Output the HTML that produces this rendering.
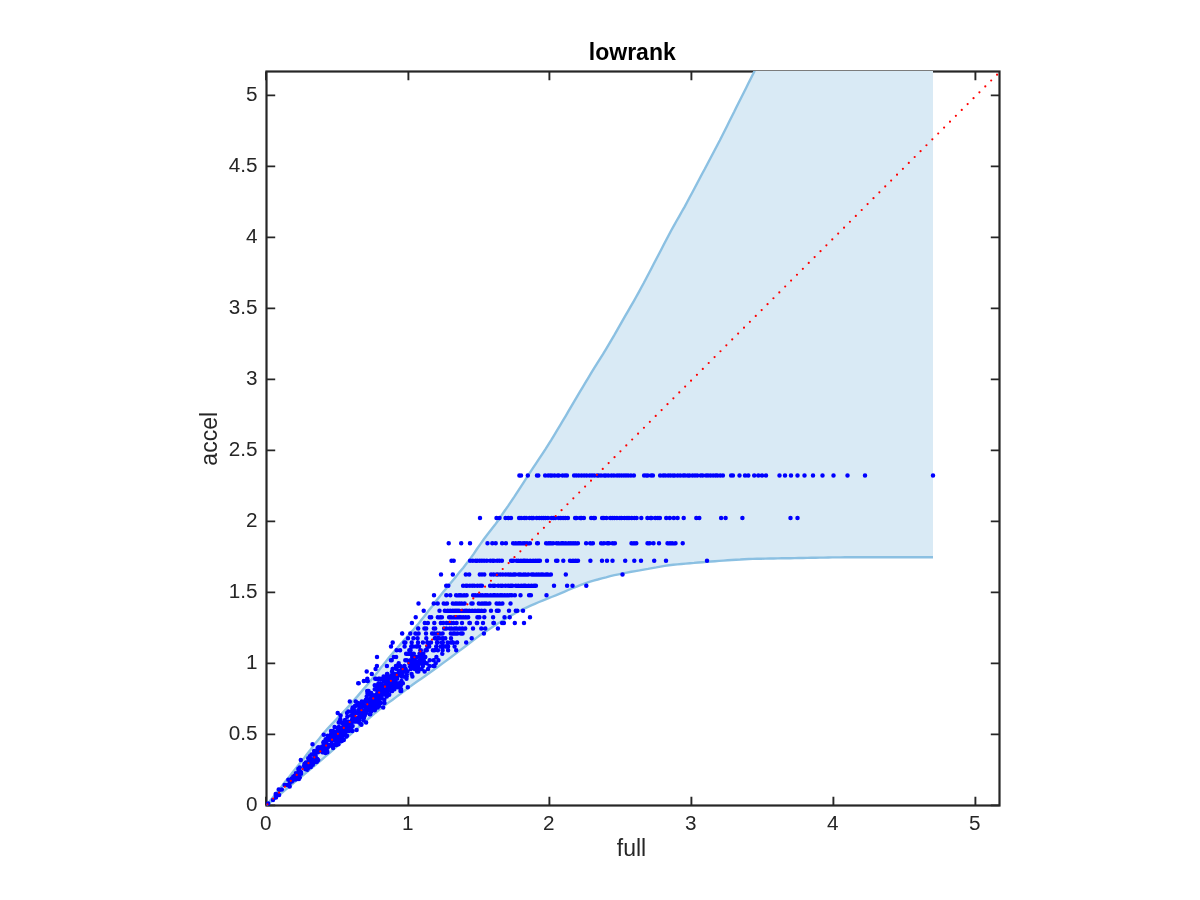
<!DOCTYPE html>
<html lang="en">
<head>
<meta charset="utf-8">
<title>lowrank</title>
<style>
html,body{margin:0;padding:0;background:#fff;}
body{width:1200px;height:900px;overflow:hidden;font-family:"Liberation Sans",Arial,Helvetica,sans-serif;}
svg{display:block;}
text{font-family:"Liberation Sans",Arial,Helvetica,sans-serif;fill:#262626;}
.xt text{font-size:20.7px;text-anchor:middle;}
.yt text{font-size:20.7px;text-anchor:end;}
.lab{font-size:23px;text-anchor:middle;}
.ttl{font-size:23px;font-weight:bold;text-anchor:middle;fill:#000;}
</style>
</head>
<body>
<svg width="1200" height="900" viewBox="0 0 1200 900">
<defs><clipPath id="ax"><rect x="266.5" y="70.9" width="733.0" height="734.6"/></clipPath></defs>
<rect width="1200" height="900" fill="#fff"/>
<g fill="none" stroke="#262626" stroke-width="2.2">
<rect x="266.5" y="71.5" width="733.0" height="734.0"/>
<path d="M266.0 805.5V796.8M266.0 71.5V80.2M408.4 805.5V796.8M408.4 71.5V80.2M549.4 805.5V796.8M549.4 71.5V80.2M691.4 805.5V796.8M691.4 71.5V80.2M833.4 805.5V796.8M833.4 71.5V80.2M975.4 805.5V796.8M975.4 71.5V80.2M266.5 805.4H275.2M999.5 805.4H990.8M266.5 734.4H275.2M999.5 734.4H990.8M266.5 663.4H275.2M999.5 663.4H990.8M266.5 592.4H275.2M999.5 592.4H990.8M266.5 521.4H275.2M999.5 521.4H990.8M266.5 450.4H275.2M999.5 450.4H990.8M266.5 379.4H275.2M999.5 379.4H990.8M266.5 308.4H275.2M999.5 308.4H990.8M266.5 237.4H275.2M999.5 237.4H990.8M266.5 166.4H275.2M999.5 166.4H990.8M266.5 95.4H275.2M999.5 95.4H990.8" stroke-width="1.9"/>
</g>
<g clip-path="url(#ax)">
<polygon points="266.5,805.4 270.3,800.6 274.0,795.9 277.8,791.1 281.6,786.4 285.3,781.6 289.1,776.9 292.9,772.1 296.6,767.4 300.4,762.6 304.2,757.9 307.9,753.1 311.5,748.4 315.2,743.6 319.0,738.9 322.9,734.1 327.0,729.4 331.4,724.6 335.9,719.9 340.4,715.1 344.9,710.4 349.3,705.6 353.4,700.9 357.6,696.1 361.6,691.4 365.7,686.6 369.6,681.9 373.5,677.1 377.3,672.4 381.0,667.6 384.8,662.9 388.6,658.1 392.6,653.4 396.7,648.6 400.8,643.9 405.0,639.1 409.2,634.4 413.5,629.6 417.5,624.9 421.3,620.1 425.0,615.4 428.7,610.6 432.4,605.9 436.0,601.1 439.7,596.4 443.6,591.6 447.5,586.9 451.5,582.1 455.3,577.4 459.2,572.6 463.1,567.9 466.9,563.1 470.5,558.4 473.9,553.6 477.1,548.8 480.4,544.1 483.8,539.3 487.4,534.6 491.1,529.8 494.8,525.1 498.3,520.3 501.4,515.6 504.7,510.8 508.0,506.1 511.2,501.3 514.4,496.6 517.5,491.8 520.6,487.1 523.7,482.3 526.7,477.6 529.8,472.8 532.9,468.1 536.1,463.3 539.2,458.6 542.4,453.8 545.5,449.1 548.5,444.3 551.5,439.6 554.4,434.8 557.2,430.1 560.1,425.3 562.9,420.6 565.8,415.8 568.5,411.1 571.3,406.3 574.1,401.6 576.9,396.8 579.7,392.1 582.6,387.3 585.4,382.6 588.3,377.8 591.1,373.1 594.0,368.3 597.0,363.6 600.0,358.8 603.0,354.1 605.9,349.3 608.7,344.6 611.5,339.8 614.3,335.1 617.0,330.3 619.7,325.6 622.4,320.8 625.1,316.1 627.9,311.3 630.6,306.6 633.4,301.8 636.1,297.0 638.7,292.3 641.3,287.5 643.9,282.8 646.4,278.0 648.9,273.3 651.4,268.5 653.8,263.8 656.3,259.0 658.8,254.3 661.3,249.5 663.7,244.8 666.2,240.0 668.7,235.3 671.2,230.5 673.8,225.8 676.5,221.0 679.2,216.3 681.9,211.5 684.6,206.8 687.2,202.0 689.7,197.3 692.3,192.5 694.8,187.8 697.3,183.0 699.8,178.3 702.3,173.5 704.9,168.8 707.4,164.0 709.9,159.3 712.4,154.5 714.9,149.8 717.4,145.0 719.9,140.3 722.3,135.5 724.7,130.8 727.1,126.0 729.4,121.3 731.8,116.5 734.2,111.8 736.5,107.0 738.9,102.3 741.3,97.5 743.7,92.8 746.1,88.0 748.4,83.3 750.8,78.5 753.2,73.8 755.5,69.0 757.9,64.3 760.3,59.5 762.6,54.8 765.0,50.0 933.0,40.0 933.0,557.2 933.0,557.2 928.8,557.2 924.6,557.2 920.4,557.2 916.2,557.2 912.0,557.2 907.8,557.2 903.7,557.2 899.5,557.2 895.3,557.2 891.1,557.2 886.9,557.2 882.7,557.2 878.5,557.2 874.3,557.3 870.1,557.3 865.9,557.3 861.7,557.3 857.5,557.3 853.4,557.3 849.2,557.3 845.0,557.3 840.8,557.4 836.6,557.4 832.4,557.4 828.2,557.5 824.0,557.6 819.8,557.6 815.6,557.7 811.4,557.8 807.2,557.9 803.1,558.0 798.9,558.0 794.7,558.1 790.5,558.2 786.3,558.3 782.1,558.3 777.9,558.4 773.7,558.5 769.5,558.5 765.3,558.6 761.1,558.7 756.9,558.8 752.8,558.9 748.6,559.0 744.4,559.2 740.2,559.5 736.0,559.7 731.8,560.0 727.6,560.3 723.4,560.6 719.2,560.9 715.0,561.2 710.8,561.5 706.6,561.9 702.4,562.2 698.3,562.5 694.1,562.9 689.9,563.2 685.7,563.6 681.5,564.0 677.3,564.4 673.1,564.8 668.9,565.3 664.7,565.9 660.5,566.6 656.3,567.4 652.1,568.1 648.0,568.9 643.8,569.6 639.6,570.4 635.4,571.1 631.2,571.8 627.0,572.6 622.8,573.4 618.6,574.3 614.4,575.2 610.2,576.2 606.0,577.3 601.8,578.3 597.7,579.5 593.5,580.6 589.3,581.9 585.1,583.4 580.9,584.9 576.7,586.6 572.5,588.2 568.3,590.0 564.1,591.8 559.9,593.6 555.7,595.4 551.5,597.0 547.4,598.7 543.2,600.3 539.0,602.0 534.8,603.8 530.6,605.7 526.4,607.6 522.2,609.6 518.0,611.7 513.8,614.0 509.6,616.5 505.4,619.0 501.2,621.5 497.1,624.1 492.9,626.8 488.7,629.4 484.5,632.2 480.3,635.1 476.1,638.1 471.9,641.3 467.7,644.5 463.5,647.7 459.3,650.9 455.1,654.1 450.9,657.2 446.7,660.4 442.6,663.4 438.4,666.5 434.2,669.5 430.0,672.5 425.8,675.5 421.6,678.4 417.4,681.3 413.2,684.3 409.0,687.4 404.8,690.5 400.6,693.7 396.4,696.9 392.3,699.9 388.1,702.9 383.9,706.0 379.7,709.3 375.5,712.7 371.3,716.3 367.1,719.9 362.9,723.6 358.7,727.2 354.5,730.9 350.3,734.5 346.1,738.2 342.0,741.9 337.8,745.6 333.6,749.3 329.4,753.0 325.2,756.6 321.0,760.3 316.8,763.9 312.6,767.4 308.4,770.9 304.2,774.3 300.0,777.7 295.8,781.1 291.7,784.6 287.5,788.1 283.3,791.5 279.1,795.0 274.9,798.5 270.7,801.9 266.5,805.4" fill="#d9eaf5"/>
<polyline points="266.5,805.4 270.3,800.6 274.0,795.9 277.8,791.1 281.6,786.4 285.3,781.6 289.1,776.9 292.9,772.1 296.6,767.4 300.4,762.6 304.2,757.9 307.9,753.1 311.5,748.4 315.2,743.6 319.0,738.9 322.9,734.1 327.0,729.4 331.4,724.6 335.9,719.9 340.4,715.1 344.9,710.4 349.3,705.6 353.4,700.9 357.6,696.1 361.6,691.4 365.7,686.6 369.6,681.9 373.5,677.1 377.3,672.4 381.0,667.6 384.8,662.9 388.6,658.1 392.6,653.4 396.7,648.6 400.8,643.9 405.0,639.1 409.2,634.4 413.5,629.6 417.5,624.9 421.3,620.1 425.0,615.4 428.7,610.6 432.4,605.9 436.0,601.1 439.7,596.4 443.6,591.6 447.5,586.9 451.5,582.1 455.3,577.4 459.2,572.6 463.1,567.9 466.9,563.1 470.5,558.4 473.9,553.6 477.1,548.8 480.4,544.1 483.8,539.3 487.4,534.6 491.1,529.8 494.8,525.1 498.3,520.3 501.4,515.6 504.7,510.8 508.0,506.1 511.2,501.3 514.4,496.6 517.5,491.8 520.6,487.1 523.7,482.3 526.7,477.6 529.8,472.8 532.9,468.1 536.1,463.3 539.2,458.6 542.4,453.8 545.5,449.1 548.5,444.3 551.5,439.6 554.4,434.8 557.2,430.1 560.1,425.3 562.9,420.6 565.8,415.8 568.5,411.1 571.3,406.3 574.1,401.6 576.9,396.8 579.7,392.1 582.6,387.3 585.4,382.6 588.3,377.8 591.1,373.1 594.0,368.3 597.0,363.6 600.0,358.8 603.0,354.1 605.9,349.3 608.7,344.6 611.5,339.8 614.3,335.1 617.0,330.3 619.7,325.6 622.4,320.8 625.1,316.1 627.9,311.3 630.6,306.6 633.4,301.8 636.1,297.0 638.7,292.3 641.3,287.5 643.9,282.8 646.4,278.0 648.9,273.3 651.4,268.5 653.8,263.8 656.3,259.0 658.8,254.3 661.3,249.5 663.7,244.8 666.2,240.0 668.7,235.3 671.2,230.5 673.8,225.8 676.5,221.0 679.2,216.3 681.9,211.5 684.6,206.8 687.2,202.0 689.7,197.3 692.3,192.5 694.8,187.8 697.3,183.0 699.8,178.3 702.3,173.5 704.9,168.8 707.4,164.0 709.9,159.3 712.4,154.5 714.9,149.8 717.4,145.0 719.9,140.3 722.3,135.5 724.7,130.8 727.1,126.0 729.4,121.3 731.8,116.5 734.2,111.8 736.5,107.0 738.9,102.3 741.3,97.5 743.7,92.8 746.1,88.0 748.4,83.3 750.8,78.5 753.2,73.8 755.5,69.0 757.9,64.3 760.3,59.5 762.6,54.8 765.0,50.0" fill="none" stroke="#8bc0e2" stroke-width="2.4"/>
<polyline points="266.5,805.4 270.7,801.9 274.9,798.5 279.1,795.0 283.3,791.5 287.5,788.1 291.7,784.6 295.8,781.1 300.0,777.7 304.2,774.3 308.4,770.9 312.6,767.4 316.8,763.9 321.0,760.3 325.2,756.6 329.4,753.0 333.6,749.3 337.8,745.6 342.0,741.9 346.1,738.2 350.3,734.5 354.5,730.9 358.7,727.2 362.9,723.6 367.1,719.9 371.3,716.3 375.5,712.7 379.7,709.3 383.9,706.0 388.1,702.9 392.3,699.9 396.4,696.9 400.6,693.7 404.8,690.5 409.0,687.4 413.2,684.3 417.4,681.3 421.6,678.4 425.8,675.5 430.0,672.5 434.2,669.5 438.4,666.5 442.6,663.4 446.7,660.4 450.9,657.2 455.1,654.1 459.3,650.9 463.5,647.7 467.7,644.5 471.9,641.3 476.1,638.1 480.3,635.1 484.5,632.2 488.7,629.4 492.9,626.8 497.1,624.1 501.2,621.5 505.4,619.0 509.6,616.5 513.8,614.0 518.0,611.7 522.2,609.6 526.4,607.6 530.6,605.7 534.8,603.8 539.0,602.0 543.2,600.3 547.4,598.7 551.5,597.0 555.7,595.4 559.9,593.6 564.1,591.8 568.3,590.0 572.5,588.2 576.7,586.6 580.9,584.9 585.1,583.4 589.3,581.9 593.5,580.6 597.7,579.5 601.8,578.3 606.0,577.3 610.2,576.2 614.4,575.2 618.6,574.3 622.8,573.4 627.0,572.6 631.2,571.8 635.4,571.1 639.6,570.4 643.8,569.6 648.0,568.9 652.1,568.1 656.3,567.4 660.5,566.6 664.7,565.9 668.9,565.3 673.1,564.8 677.3,564.4 681.5,564.0 685.7,563.6 689.9,563.2 694.1,562.9 698.3,562.5 702.4,562.2 706.6,561.9 710.8,561.5 715.0,561.2 719.2,560.9 723.4,560.6 727.6,560.3 731.8,560.0 736.0,559.7 740.2,559.5 744.4,559.2 748.6,559.0 752.8,558.9 756.9,558.8 761.1,558.7 765.3,558.6 769.5,558.5 773.7,558.5 777.9,558.4 782.1,558.3 786.3,558.3 790.5,558.2 794.7,558.1 798.9,558.0 803.1,558.0 807.2,557.9 811.4,557.8 815.6,557.7 819.8,557.6 824.0,557.6 828.2,557.5 832.4,557.4 836.6,557.4 840.8,557.4 845.0,557.3 849.2,557.3 853.4,557.3 857.5,557.3 861.7,557.3 865.9,557.3 870.1,557.3 874.3,557.3 878.5,557.2 882.7,557.2 886.9,557.2 891.1,557.2 895.3,557.2 899.5,557.2 903.7,557.2 907.8,557.2 912.0,557.2 916.2,557.2 920.4,557.2 924.6,557.2 928.8,557.2 933.0,557.2" fill="none" stroke="#8bc0e2" stroke-width="2.4"/>
</g>
<path d="M519.4 475.5h0M521.0 475.5h0M527.8 475.5h0M537.0 475.5h0M538.3 475.5h0M545.1 475.5h0M548.2 475.5h0M550.4 475.5h0M551.9 475.5h0M554.5 475.5h0M557.8 475.5h0M558.8 475.5h0M562.6 475.5h0M565.0 475.5h0M566.9 475.5h0M574.1 475.5h0M576.2 475.5h0M578.7 475.5h0M581.5 475.5h0M584.1 475.5h0M586.6 475.5h0M589.8 475.5h0M592.0 475.5h0M594.2 475.5h0M597.3 475.5h0M598.6 475.5h0M601.0 475.5h0M604.2 475.5h0M605.8 475.5h0M608.2 475.5h0M611.5 475.5h0M613.9 475.5h0M617.1 475.5h0M619.2 475.5h0M621.5 475.5h0M623.9 475.5h0M626.0 475.5h0M628.1 475.5h0M630.9 475.5h0M633.9 475.5h0M644.1 475.5h0M646.1 475.5h0M647.7 475.5h0M651.2 475.5h0M652.9 475.5h0M660.1 475.5h0M663.2 475.5h0M665.1 475.5h0M668.2 475.5h0M670.4 475.5h0M673.0 475.5h0M674.5 475.5h0M677.7 475.5h0M680.2 475.5h0M683.3 475.5h0M685.0 475.5h0M687.9 475.5h0M689.5 475.5h0M692.6 475.5h0M695.0 475.5h0M697.2 475.5h0M700.8 475.5h0M702.6 475.5h0M706.1 475.5h0M708.0 475.5h0M710.5 475.5h0M713.1 475.5h0M715.6 475.5h0M717.3 475.5h0M720.3 475.5h0M722.9 475.5h0M731.1 475.5h0M732.9 475.5h0M739.5 475.5h0M745.0 475.5h0M748.3 475.5h0M754.2 475.5h0M758.3 475.5h0M762.0 475.5h0M766.0 475.5h0M779.5 475.5h0M785.0 475.5h0M791.0 475.5h0M797.5 475.5h0M804.5 475.5h0M813.0 475.5h0M822.5 475.5h0M833.5 475.5h0M847.5 475.5h0M865.0 475.5h0M933.0 475.5h0M480.0 518.0h0M496.5 518.0h0M499.5 518.0h0M505.5 518.0h0M508.3 518.0h0M511.0 518.0h0M519.1 518.0h0M521.1 518.0h0M524.3 518.0h0M526.1 518.0h0M529.5 518.0h0M531.6 518.0h0M533.2 518.0h0M536.7 518.0h0M539.3 518.0h0M541.7 518.0h0M543.6 518.0h0M545.4 518.0h0M547.9 518.0h0M551.5 518.0h0M553.3 518.0h0M555.2 518.0h0M558.8 518.0h0M560.8 518.0h0M563.1 518.0h0M565.3 518.0h0M567.9 518.0h0M575.1 518.0h0M576.6 518.0h0M580.1 518.0h0M581.6 518.0h0M583.9 518.0h0M591.1 518.0h0M593.4 518.0h0M594.9 518.0h0M602.1 518.0h0M603.8 518.0h0M606.4 518.0h0M610.2 518.0h0M612.2 518.0h0M614.3 518.0h0M616.9 518.0h0M619.9 518.0h0M621.6 518.0h0M624.4 518.0h0M627.0 518.0h0M629.0 518.0h0M631.7 518.0h0M634.6 518.0h0M636.6 518.0h0M641.3 518.0h0M647.4 518.0h0M650.6 518.0h0M651.6 518.0h0M655.3 518.0h0M657.9 518.0h0M659.9 518.0h0M666.2 518.0h0M669.8 518.0h0M673.8 518.0h0M677.6 518.0h0M683.7 518.0h0M696.3 518.0h0M699.3 518.0h0M721.1 518.0h0M725.6 518.0h0M742.4 518.0h0M790.5 518.0h0M797.5 518.0h0M448.7 543.2h0M461.2 543.2h0M470.0 543.2h0M487.5 543.2h0M492.3 543.2h0M495.7 543.2h0M502.1 543.2h0M505.9 543.2h0M513.1 543.2h0M515.7 543.2h0M518.4 543.2h0M520.3 543.2h0M523.1 543.2h0M524.7 543.2h0M527.0 543.2h0M529.9 543.2h0M537.1 543.2h0M537.9 543.2h0M546.1 543.2h0M548.7 543.2h0M550.7 543.2h0M553.1 543.2h0M556.6 543.2h0M558.2 543.2h0M561.5 543.2h0M563.2 543.2h0M565.7 543.2h0M568.7 543.2h0M570.9 543.2h0M573.1 543.2h0M575.3 543.2h0M577.9 543.2h0M586.1 543.2h0M590.2 543.2h0M592.9 543.2h0M601.1 543.2h0M603.9 543.2h0M607.3 543.2h0M609.0 543.2h0M612.6 543.2h0M614.9 543.2h0M631.5 543.2h0M634.0 543.2h0M636.3 543.2h0M647.5 543.2h0M649.7 543.2h0M653.5 543.2h0M659.0 543.2h0M667.5 543.2h0M670.0 543.2h0M672.2 543.2h0M675.5 543.2h0M682.7 543.2h0M451.5 560.8h0M453.7 560.8h0M470.1 560.8h0M472.8 560.8h0M475.7 560.8h0M477.2 560.8h0M479.7 560.8h0M481.9 560.8h0M484.1 560.8h0M486.8 560.8h0M490.3 560.8h0M492.7 560.8h0M493.9 560.8h0M497.2 560.8h0M499.4 560.8h0M501.9 560.8h0M511.1 560.8h0M513.2 560.8h0M516.6 560.8h0M518.2 560.8h0M520.9 560.8h0M523.3 560.8h0M525.0 560.8h0M527.2 560.8h0M530.2 560.8h0M533.1 560.8h0M535.6 560.8h0M537.9 560.8h0M539.9 560.8h0M547.0 560.8h0M556.1 560.8h0M557.4 560.8h0M563.3 560.8h0M570.0 560.8h0M573.0 560.8h0M575.6 560.8h0M578.0 560.8h0M590.4 560.8h0M602.0 560.8h0M607.0 560.8h0M612.5 560.8h0M625.2 560.8h0M634.3 560.8h0M641.0 560.8h0M654.2 560.8h0M666.0 560.8h0M707.0 560.8h0M441.0 574.6h0M452.8 574.6h0M465.8 574.6h0M469.2 574.6h0M479.8 574.6h0M482.0 574.6h0M484.3 574.6h0M491.1 574.6h0M493.6 574.6h0M496.7 574.6h0M497.8 574.6h0M500.3 574.6h0M502.8 574.6h0M505.7 574.6h0M508.1 574.6h0M510.5 574.6h0M513.6 574.6h0M515.3 574.6h0M518.7 574.6h0M520.5 574.6h0M523.8 574.6h0M525.2 574.6h0M528.2 574.6h0M531.7 574.6h0M533.5 574.6h0M536.4 574.6h0M538.7 574.6h0M541.1 574.6h0M542.9 574.6h0M546.0 574.6h0M547.7 574.6h0M550.9 574.6h0M565.8 574.6h0M622.5 574.6h0M446.2 585.8h0M448.3 585.8h0M463.1 585.8h0M466.0 585.8h0M467.1 585.8h0M469.9 585.8h0M472.2 585.8h0M474.2 585.8h0M477.4 585.8h0M480.0 585.8h0M481.9 585.8h0M490.1 585.8h0M493.1 585.8h0M494.6 585.8h0M498.2 585.8h0M500.9 585.8h0M502.3 585.8h0M505.5 585.8h0M508.1 585.8h0M510.6 585.8h0M512.4 585.8h0M515.8 585.8h0M518.3 585.8h0M521.2 585.8h0M523.7 585.8h0M525.4 585.8h0M528.6 585.8h0M531.4 585.8h0M534.0 585.8h0M535.9 585.8h0M554.0 585.8h0M567.1 585.8h0M572.5 585.8h0M586.3 585.8h0M434.0 595.3h0M446.3 595.3h0M450.3 595.3h0M456.1 595.3h0M459.0 595.3h0M460.9 595.3h0M464.1 595.3h0M466.6 595.3h0M473.1 595.3h0M475.2 595.3h0M477.9 595.3h0M480.7 595.3h0M482.3 595.3h0M485.2 595.3h0M487.3 595.3h0M490.6 595.3h0M493.3 595.3h0M495.0 595.3h0M497.5 595.3h0M500.2 595.3h0M502.1 595.3h0M504.7 595.3h0M507.3 595.3h0M509.9 595.3h0M511.8 595.3h0M514.9 595.3h0M520.5 595.3h0M529.1 595.3h0M530.9 595.3h0M546.5 595.3h0M418.5 603.6h0M433.7 603.6h0M437.7 603.6h0M443.7 603.6h0M447.0 603.6h0M452.8 603.6h0M455.6 603.6h0M456.9 603.6h0M459.3 603.6h0M461.6 603.6h0M464.6 603.6h0M471.4 603.6h0M472.6 603.6h0M478.8 603.6h0M482.0 603.6h0M484.3 603.6h0M486.2 603.6h0M489.4 603.6h0M496.6 603.6h0M499.3 603.6h0M502.4 603.6h0M510.5 603.6h0M423.7 610.8h0M439.5 610.8h0M444.8 610.8h0M447.7 610.8h0M450.2 610.8h0M452.8 610.8h0M455.0 610.8h0M457.0 610.8h0M459.0 610.8h0M462.2 610.8h0M465.1 610.8h0M466.7 610.8h0M469.3 610.8h0M472.2 610.8h0M475.0 610.8h0M477.8 610.8h0M479.0 610.8h0M481.6 610.8h0M484.6 610.8h0M491.0 610.8h0M496.8 610.8h0M498.6 610.8h0M509.0 610.8h0M515.8 610.8h0M517.2 610.8h0M523.0 610.8h0M415.7 617.3h0M429.8 617.3h0M431.2 617.3h0M437.8 617.3h0M440.3 617.3h0M441.9 617.3h0M449.1 617.3h0M451.0 617.3h0M454.3 617.3h0M456.7 617.3h0M459.0 617.3h0M460.9 617.3h0M463.2 617.3h0M465.7 617.3h0M468.2 617.3h0M477.4 617.3h0M479.4 617.3h0M484.3 617.3h0M493.1 617.3h0M504.5 617.3h0M509.7 617.3h0M530.0 617.3h0M411.9 623.1h0M424.8 623.1h0M427.9 623.1h0M434.3 623.1h0M440.8 623.1h0M443.2 623.1h0M446.6 623.1h0M449.4 623.1h0M451.2 623.1h0M453.4 623.1h0M456.6 623.1h0M462.0 623.1h0M469.4 623.1h0M469.9 623.1h0M476.8 623.1h0M477.2 623.1h0M483.0 623.1h0M493.4 623.1h0M493.9 623.1h0M502.1 623.1h0M503.9 623.1h0M514.8 623.1h0M524.0 623.1h0M418.1 628.5h0M418.2 628.5h0M424.4 628.5h0M426.2 628.5h0M433.8 628.5h0M435.2 628.5h0M444.1 628.5h0M446.3 628.5h0M449.8 628.5h0M451.3 628.5h0M454.6 628.5h0M456.5 628.5h0M459.6 628.5h0M462.3 628.5h0M465.2 628.5h0M473.0 628.5h0M481.3 628.5h0M485.3 628.5h0M497.9 628.5h0M402.1 633.5h0M402.2 633.5h0M410.3 633.5h0M415.4 633.5h0M418.6 633.5h0M426.0 633.5h0M432.1 633.5h0M434.3 633.5h0M437.2 633.5h0M439.5 633.5h0M442.6 633.5h0M450.8 633.5h0M453.2 633.5h0M454.9 633.5h0M457.4 633.5h0M460.8 633.5h0M462.6 633.5h0M483.9 633.5h0M434.8 638.3h0M443.7 638.3h0M437.7 638.3h0M436.9 638.3h0M471.7 638.3h0M439.4 638.3h0M445.3 638.3h0M413.4 638.3h0M451.0 638.3h0M408.0 638.3h0M426.3 638.3h0M442.3 638.3h0M417.6 638.3h0M435.3 638.3h0M453.0 642.5h0M452.6 642.5h0M442.8 642.5h0M427.3 642.5h0M411.7 642.5h0M447.6 642.5h0M437.7 642.5h0M404.3 642.5h0M437.0 642.5h0M427.5 642.5h0M437.6 642.5h0M418.0 642.5h0M441.9 642.5h0M457.1 642.5h0M457.0 642.5h0M466.2 642.5h0M431.0 642.5h0M422.9 642.5h0M405.4 642.5h0M450.8 642.5h0M452.3 642.5h0M392.7 642.5h0M416.2 646.5h0M412.9 646.5h0M429.0 646.5h0M404.6 646.5h0M419.1 646.5h0M444.0 646.5h0M454.6 646.5h0M436.2 646.5h0M417.4 646.5h0M427.3 646.5h0M429.1 646.5h0M428.2 646.5h0M445.7 646.5h0M429.2 646.5h0M440.6 646.5h0M391.0 646.5h0M448.1 646.5h0M411.8 646.5h0M411.2 646.5h0M416.5 646.5h0M432.9 650.2h0M400.1 650.2h0M396.6 650.2h0M420.8 650.2h0M425.5 650.2h0M426.8 650.2h0M409.3 650.2h0M409.8 650.2h0M437.9 650.2h0M410.6 650.2h0M420.3 650.2h0M434.4 650.2h0M442.6 650.2h0M456.2 650.2h0M448.1 650.2h0M421.8 653.7h0M420.9 653.7h0M421.3 653.7h0M442.3 653.7h0M420.2 653.7h0M421.3 653.7h0M410.8 653.7h0M406.1 653.7h0M420.7 653.7h0M419.5 653.7h0M407.6 653.7h0M413.8 653.7h0M422.2 653.7h0M423.3 653.7h0M420.2 657.1h0M416.4 657.1h0M413.2 657.1h0M414.8 657.1h0M420.2 657.1h0M422.3 657.1h0M425.2 657.1h0M412.2 657.1h0M393.8 657.1h0M422.5 657.1h0M424.6 657.1h0M414.9 657.1h0M425.3 657.1h0M396.1 657.1h0M436.4 657.1h0M422.3 657.1h0M377.0 657.1h0M433.7 660.2h0M419.3 660.2h0M438.4 660.2h0M411.9 660.2h0M405.3 660.2h0M421.1 660.2h0M429.7 660.2h0M414.5 660.2h0M423.8 660.2h0M421.1 660.2h0M420.6 660.2h0M391.7 660.2h0M414.6 660.2h0M390.9 660.2h0M406.7 660.2h0M410.5 660.2h0M420.9 660.2h0M415.1 660.2h0M419.6 663.3h0M435.7 663.3h0M416.4 663.3h0M423.0 663.3h0M411.5 663.3h0M409.9 663.3h0M414.8 663.3h0M411.7 663.3h0M398.7 663.3h0M409.3 663.3h0M426.6 663.3h0M400.2 666.1h0M422.9 666.1h0M415.6 666.1h0M422.8 666.1h0M433.4 666.1h0M411.7 666.1h0M418.0 666.1h0M396.6 666.1h0M404.3 666.1h0M411.8 666.1h0M434.5 666.1h0M409.8 666.1h0M429.5 666.1h0M395.9 666.1h0M415.0 666.1h0M386.9 666.1h0M376.9 666.1h0M411.8 666.1h0M404.5 666.1h0M392.8 668.9h0M405.7 668.9h0M401.5 668.9h0M415.1 668.9h0M392.6 668.9h0M418.4 668.9h0M415.2 668.9h0M403.0 668.9h0M421.7 668.9h0M414.7 668.9h0M428.1 668.9h0M414.9 668.9h0M396.7 668.9h0M375.6 668.9h0M401.6 668.9h0M410.8 668.9h0M398.9 671.5h0M418.4 671.5h0M417.1 671.5h0M403.5 671.5h0M392.0 671.5h0M366.7 671.5h0M407.5 671.5h0M406.9 671.5h0M399.3 671.5h0M424.6 671.5h0M402.8 671.5h0M371.8 674.0h0M399.8 674.0h0M397.0 674.0h0M395.2 674.0h0M387.4 674.0h0M399.6 674.0h0M406.9 674.0h0M387.0 674.0h0M411.6 674.0h0M402.0 674.0h0M392.3 674.0h0M394.2 674.0h0M392.4 674.0h0M406.7 676.4h0M390.1 676.4h0M387.1 676.4h0M393.6 676.4h0M390.3 676.4h0M401.6 676.4h0M395.6 676.4h0M389.0 676.4h0M383.6 676.4h0M390.3 676.4h0M397.3 676.4h0M406.1 676.4h0M402.1 676.4h0M405.3 676.4h0M412.4 676.4h0M378.8 678.8h0M392.5 678.8h0M380.0 678.8h0M396.6 678.8h0M376.0 678.8h0M394.4 678.8h0M367.3 678.8h0M387.2 678.8h0M406.5 678.8h0M383.9 678.8h0M385.9 678.8h0M382.3 678.8h0M395.1 678.8h0M384.5 678.8h0M379.0 678.8h0M397.1 678.8h0M375.2 678.8h0M363.8 681.0h0M386.6 681.0h0M384.2 681.0h0M395.5 681.0h0M387.7 681.0h0M367.4 681.0h0M401.5 681.0h0M392.1 681.0h0M367.8 681.0h0M389.9 681.0h0M394.2 681.0h0M399.0 683.2h0M392.4 683.2h0M380.8 683.2h0M395.7 683.2h0M386.0 683.2h0M358.2 683.2h0M378.5 683.2h0M400.1 683.2h0M388.1 683.2h0M358.7 683.2h0M402.9 683.2h0M396.2 685.3h0M389.6 685.3h0M374.7 685.3h0M388.0 685.3h0M390.4 685.3h0M391.4 685.3h0M388.9 685.3h0M383.1 685.3h0M397.9 685.3h0M390.0 685.3h0M399.3 685.3h0M381.1 685.3h0M391.7 685.3h0M400.9 685.3h0M400.9 685.3h0M377.0 685.3h0M387.5 685.3h0M398.5 687.3h0M390.5 687.3h0M379.8 687.3h0M407.8 687.3h0M387.0 687.3h0M380.6 687.3h0M397.7 687.3h0M395.3 687.3h0M376.1 689.2h0M381.1 689.2h0M401.1 689.2h0M374.7 689.2h0M392.1 689.2h0M383.6 689.2h0M390.7 689.2h0M394.4 689.2h0M390.5 689.2h0M393.8 689.2h0M375.5 689.2h0M367.2 691.1h0M387.1 691.1h0M380.9 691.1h0M382.4 691.1h0M387.8 691.1h0M401.2 691.1h0M383.1 691.1h0M392.2 691.1h0M386.7 691.1h0M385.7 691.1h0M378.2 691.1h0M385.8 691.1h0M391.5 691.1h0M378.6 691.1h0M382.9 691.1h0M379.5 691.1h0M380.1 691.1h0M385.9 691.1h0M400.5 691.1h0M368.5 691.1h0M371.2 693.0h0M370.4 693.0h0M367.4 693.0h0M377.3 693.0h0M385.7 693.0h0M382.2 693.0h0M371.2 693.0h0M378.0 693.0h0M379.9 693.0h0M377.5 693.0h0M376.0 694.8h0M379.5 694.8h0M388.9 694.8h0M370.4 694.8h0M387.7 694.8h0M372.1 694.8h0M386.4 694.8h0M368.2 694.8h0M372.0 694.8h0M385.3 694.8h0M382.9 694.8h0M389.2 694.8h0M386.4 694.8h0M366.7 696.5h0M374.6 696.5h0M379.0 696.5h0M386.8 696.5h0M376.6 696.5h0M381.7 698.2h0M373.0 698.2h0M373.0 698.2h0M381.4 698.2h0M371.0 698.2h0M374.4 698.2h0M373.3 698.2h0M378.0 698.2h0M378.0 698.2h0M373.7 698.2h0M381.5 698.2h0M372.8 699.8h0M378.7 699.8h0M366.6 699.8h0M375.9 699.8h0M368.8 699.8h0M384.3 699.8h0M376.2 699.8h0M367.9 699.8h0M373.6 699.8h0M372.6 699.8h0M365.9 699.8h0M375.8 701.4h0M369.4 701.4h0M361.8 701.4h0M368.7 701.4h0M368.4 701.4h0M349.8 701.4h0M355.7 701.4h0M364.3 701.4h0M373.4 701.4h0M379.1 701.4h0M379.3 701.4h0M362.6 703.0h0M377.3 703.0h0M369.3 703.0h0M363.1 703.0h0M367.9 703.0h0M384.5 703.0h0M357.5 703.0h0M357.8 703.0h0M380.8 703.0h0M357.3 703.0h0M380.4 703.0h0M371.0 704.5h0M375.9 704.5h0M360.8 704.5h0M373.9 704.5h0M376.0 704.5h0M371.2 704.5h0M362.9 704.5h0M360.4 704.5h0M378.2 704.5h0M359.1 704.5h0M378.1 706.0h0M365.9 706.0h0M374.1 706.0h0M369.6 706.0h0M362.6 706.0h0M371.6 706.0h0M370.3 706.0h0M379.1 706.0h0M354.9 706.0h0M355.3 706.0h0M360.1 706.0h0M371.6 706.0h0M375.0 706.0h0M365.3 706.0h0M374.2 707.5h0M383.2 707.5h0M359.4 707.5h0M377.8 707.5h0M367.5 707.5h0M376.8 707.5h0M365.7 707.5h0M352.6 707.5h0M371.1 707.5h0M369.8 707.5h0M376.1 707.5h0M353.8 708.9h0M360.2 708.9h0M353.5 708.9h0M365.4 708.9h0M352.3 708.9h0M371.2 708.9h0M361.5 708.9h0M361.4 708.9h0M367.0 710.3h0M360.2 710.3h0M358.2 710.3h0M360.4 710.3h0M374.8 710.3h0M353.9 710.3h0M372.1 710.3h0M363.8 710.3h0M361.1 711.6h0M359.9 711.6h0M348.3 711.6h0M353.7 711.6h0M360.4 711.6h0M371.1 711.6h0M370.4 711.6h0M358.7 711.6h0M351.8 711.6h0M363.5 712.9h0M365.2 712.9h0M365.9 712.9h0M362.0 712.9h0M355.6 712.9h0M347.0 712.9h0M337.7 712.9h0M360.7 712.9h0M369.7 714.2h0M370.3 714.2h0M359.9 714.2h0M359.4 714.2h0M353.6 714.2h0M360.2 714.2h0M359.2 714.2h0M353.3 714.2h0M353.6 715.5h0M362.8 715.5h0M353.1 715.5h0M359.4 715.5h0M364.8 715.5h0M340.6 715.5h0M351.1 715.5h0M353.2 716.8h0M347.3 716.8h0M359.7 716.8h0M361.8 716.8h0M354.3 716.8h0M357.8 718.0h0M363.9 718.0h0M357.8 718.0h0M353.0 719.2h0M356.6 719.2h0M358.9 719.2h0M340.3 719.2h0M356.3 719.2h0M363.5 719.2h0M354.8 719.2h0M352.2 719.2h0M354.4 719.2h0M344.8 720.3h0M363.4 720.3h0M344.9 720.3h0M353.3 720.3h0M354.7 720.3h0M352.0 720.3h0M359.1 720.3h0M347.9 721.5h0M355.8 721.5h0M346.6 721.5h0M339.5 721.5h0M356.9 721.5h0M353.9 721.5h0M366.1 722.6h0M338.7 722.6h0M349.8 722.6h0M342.2 722.6h0M341.7 722.6h0M359.2 722.6h0M346.6 722.6h0M347.5 722.6h0M351.7 722.6h0M349.8 723.7h0M344.0 723.7h0M360.2 723.7h0M344.6 723.7h0M342.9 723.7h0M350.9 723.7h0M343.4 723.7h0M345.2 724.8h0M344.2 724.8h0M361.4 724.8h0M349.3 724.8h0M349.7 724.8h0M352.6 725.9h0M344.0 725.9h0M345.3 725.9h0M345.4 727.0h0M338.9 727.0h0M351.2 727.0h0M350.8 727.0h0M334.6 727.0h0M343.1 727.0h0M340.5 728.0h0M337.3 728.0h0M338.3 728.0h0M348.5 728.0h0M338.7 729.0h0M350.2 729.0h0M350.3 729.0h0M351.4 729.0h0M343.1 729.0h0M344.7 729.0h0M344.4 730.0h0M342.0 730.0h0M356.6 730.0h0M346.8 730.0h0M348.1 730.0h0M352.3 731.0h0M331.0 731.0h0M348.5 731.0h0M348.8 731.0h0M340.6 731.0h0M332.9 731.0h0M337.5 731.0h0M342.1 731.0h0M346.6 731.0h0M344.7 731.0h0M334.0 732.0h0M336.1 732.0h0M341.4 732.0h0M345.0 732.0h0M343.2 732.0h0M335.4 732.9h0M331.3 732.9h0M332.8 732.9h0M342.0 732.9h0M344.3 732.9h0M333.3 732.9h0M339.3 732.9h0M345.5 733.9h0M336.6 733.9h0M340.7 733.9h0M340.9 733.9h0M343.2 733.9h0M345.5 733.9h0M335.4 733.9h0M339.7 734.8h0M341.3 734.8h0M334.0 734.8h0M330.9 734.8h0M323.7 734.8h0M343.9 734.8h0M336.1 734.8h0M339.9 735.7h0M338.3 735.7h0M342.7 735.7h0M347.0 735.7h0M327.8 735.7h0M342.7 735.7h0M341.4 736.6h0M338.0 736.6h0M346.4 736.6h0M339.5 736.6h0M330.1 736.6h0M334.5 736.6h0M339.5 736.6h0M332.1 737.5h0M333.7 737.5h0M334.6 737.5h0M341.5 737.5h0M334.2 737.5h0M333.6 738.4h0M341.7 738.4h0M333.9 738.4h0M336.1 738.4h0M327.8 739.2h0M331.5 739.2h0M338.5 739.2h0M327.2 739.2h0M325.6 739.2h0M332.8 739.2h0M343.8 740.1h0M336.4 740.1h0M331.6 740.1h0M331.1 740.1h0M335.8 740.1h0M331.7 740.1h0M339.2 740.1h0M328.2 740.1h0M336.7 740.9h0M331.3 740.9h0M336.1 740.9h0M331.9 740.9h0M341.2 740.9h0M325.6 740.9h0M335.6 740.9h0M341.7 740.9h0M323.9 741.8h0M326.4 742.6h0M323.3 742.6h0M324.5 743.4h0M326.3 743.4h0M312.5 744.2h0M338.5 744.2h0M336.5 745.0h0M334.1 745.0h0M326.6 745.0h0M329.8 745.0h0M332.5 745.0h0M323.4 745.7h0M331.0 745.7h0M326.6 746.5h0M322.2 746.5h0M323.2 746.5h0M325.2 747.3h0M320.5 747.3h0M318.3 747.3h0M327.9 747.3h0M321.9 747.3h0M321.2 748.0h0M317.6 748.0h0M317.8 748.0h0M327.5 748.0h0M318.8 748.0h0M333.1 748.0h0M321.0 748.7h0M317.6 748.7h0M322.4 749.5h0M321.4 749.5h0M324.8 750.2h0M322.7 750.2h0M317.9 750.2h0M323.0 750.9h0M318.9 750.9h0M314.1 750.9h0M322.3 750.9h0M327.2 750.9h0M321.8 750.9h0M326.7 750.9h0M322.5 751.6h0M327.0 751.6h0M318.0 752.3h0M325.6 752.3h0M322.4 752.3h0M322.8 752.3h0M327.3 752.3h0M324.2 752.3h0M325.5 753.0h0M315.0 754.4h0M311.4 754.4h0M313.9 755.0h0M315.0 755.0h0M315.6 755.7h0M314.7 756.3h0M309.8 756.3h0M315.7 757.0h0M309.8 758.3h0M308.2 758.3h0M316.2 758.3h0M309.9 758.3h0M315.2 758.9h0M311.1 758.9h0M317.3 758.9h0M315.3 758.9h0M308.9 760.1h0M318.2 760.1h0M316.4 760.1h0M311.8 760.1h0M300.8 760.1h0M316.0 761.3h0M312.5 761.3h0M309.3 761.3h0M313.1 761.9h0M316.8 761.9h0M315.3 761.9h0M305.9 762.5h0M306.1 762.5h0M307.2 763.1h0M310.4 763.1h0M304.5 763.7h0M307.7 763.7h0M307.5 764.2h0M306.6 764.2h0M308.2 764.8h0M305.6 764.8h0M308.3 764.8h0M312.8 764.8h0M304.1 765.4h0M307.7 765.4h0M304.9 765.4h0M305.1 765.4h0M307.4 765.4h0M307.9 765.4h0M305.9 765.9h0M304.2 765.9h0M304.9 766.5h0M305.2 766.5h0M304.3 767.0h0M310.8 767.0h0M307.3 767.0h0M306.8 767.0h0M299.8 767.6h0M298.4 768.7h0M307.9 768.7h0M306.9 768.7h0M306.7 769.2h0M305.3 769.2h0M305.5 769.2h0M299.3 769.2h0M307.3 769.7h0M298.4 769.7h0M299.7 771.3h0M300.2 771.8h0M301.1 772.3h0M300.5 773.3h0M295.9 773.3h0M301.0 773.8h0M295.6 774.2h0M300.0 774.2h0M298.1 774.7h0M298.3 775.7h0M295.7 775.7h0M296.5 776.2h0M293.3 776.6h0M293.5 777.1h0M296.9 777.5h0M298.3 777.5h0M299.8 777.5h0M294.8 778.0h0M291.8 778.5h0M294.0 778.5h0M293.6 778.9h0M298.9 778.9h0M295.6 779.4h0M291.2 779.4h0M288.3 779.8h0M292.6 780.7h0M289.4 780.7h0M291.0 781.1h0M291.2 781.1h0M291.9 781.6h0M289.5 783.7h0M286.8 784.9h0M288.6 784.9h0M288.7 784.9h0M284.6 784.9h0M289.7 786.5h0M278.7 789.6h0M281.8 789.6h0M279.3 790.0h0M275.7 794.0h0M277.5 794.4h0M279.1 795.1h0M275.8 796.1h0M276.0 797.4h0M273.0 800.0h0M268.2 803.5h0" fill="none" stroke="#0000ff" stroke-width="4.5" stroke-linecap="round"/>
<line x1="267.3" y1="804.4" x2="1007.3" y2="64.39999999999998" stroke="#ff0000" stroke-width="2.2" stroke-linecap="round" stroke-dasharray="0 8.323" clip-path="url(#ax)"/>
<g class="xt"><text x="265.8" y="830.2">0</text><text x="407.8" y="830.2">1</text><text x="548.8" y="830.2">2</text><text x="690.8" y="830.2">3</text><text x="832.8" y="830.2">4</text><text x="974.8" y="830.2">5</text></g>
<g class="yt"><text x="257.4" y="810.7">0</text><text x="257.4" y="739.7">0.5</text><text x="257.4" y="668.7">1</text><text x="257.4" y="597.7">1.5</text><text x="257.4" y="526.7">2</text><text x="257.4" y="455.7">2.5</text><text x="257.4" y="384.7">3</text><text x="257.4" y="313.7">3.5</text><text x="257.4" y="242.7">4</text><text x="257.4" y="171.7">4.5</text><text x="257.4" y="100.7">5</text></g>
<text class="lab" x="631.5" y="856.3">full</text>
<text class="lab" transform="translate(216.7,438.8) rotate(-90)">accel</text>
<text class="ttl" x="632.3" y="60">lowrank</text>
</svg>
</body>
</html>
